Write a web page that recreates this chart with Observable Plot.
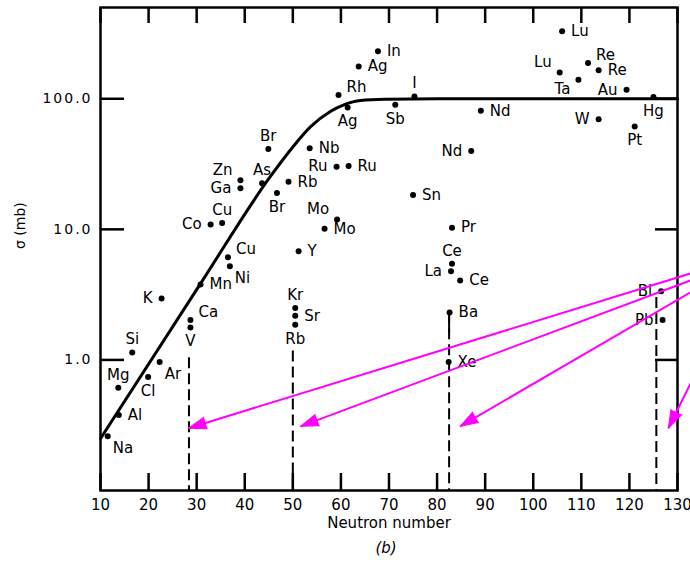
<!DOCTYPE html>
<html><head><meta charset="utf-8">
<script src="https://cdn.jsdelivr.net/npm/d3@7"></script>
<script src="https://cdn.jsdelivr.net/npm/@observablehq/plot@0.6"></script>
<style>
html,body{margin:0;padding:0;background:#fff;}
</style></head><body><div id="chart"></div>
<script>
// ---- data ----
const elements = ["Na","Al","Mg","Cl","Si","Ar","K","Ca","V","Mn",
  "Co","Cu","Cu","Ni","Ga","Zn","As","Br","Br","Rb",
  "Y","Nb","Mo","Mo","Ru","Ru","Kr","Sr","Rb","Rh",
  "Ag","Ag","In","Sb","I","Sn","Nd","Nd","Pr","Ce",
  "La","Ce","Ba","Xe","Lu","Lu","Ta","Re","Re","W",
  "Au","Pt","Hg","Bi","Pb"];
const neutrons = [11.5,13.8,13.7,19.9,16.6,22.3,22.7,28.7,28.7,30.8,
  32.9,35.3,36.5,36.9,39.1,39.1,43.6,44.9,46.7,49.1,
  51.2,53.5,56.6,59.2,59.1,61.6,50.5,50.5,50.5,59.5,
  61.4,63.7,67.7,71.3,75.3,75.0,87.1,89.1,83.1,83.1,
  82.9,84.8,82.6,82.4,106.0,105.5,109.4,111.4,113.6,113.6,
  119.4,121.1,125.0,126.6,126.9];
const sigmas = [0.26,0.378,0.612,0.74,1.14,0.965,2.95,2.02,1.77,3.78,
  10.9,11.2,6.12,5.22,20.6,23.8,22.5,41.3,19.0,23.1,
  6.81,41.8,10.1,11.9,30.2,30.5,2.50,2.18,1.86,107,
  85.8,177,231,89.9,104,18.3,39.8,80.9,10.3,5.45,
  4.78,4.05,2.31,0.965,329,159,140,188,165,69.8,
  117,61.2,103,3.35,2.02];
const placements = ["SE","E","N","S","N","SE","W","NE","S","E",
  "W","N","NE","SE","W","NW","N","N","S","E",
  "E","E","E","NW","W","E","N","E","S","NE",
  "S","E","E","S","N","E","W","E","E","N",
  "W","E","E","E","E","NW","SW","NE","E","W",
  "W","S","S","W","W"];

// smooth trend curve
const curveN = [10, 30.8, 45.3, 49.5, 53.7, 57.8, 60.6, 64.1, 69.6, 80, 130];
const curveSigma = [0.25, 3.84, 25.3, 40.5, 61.2, 80.0, 89.9, 97.1, 99, 100, 100];

// magic-number dashed lines (Ba line has a short solid part below the dot)
const magicN = [28.4, 50, 82.5, 125.6];
const magicTop = [1.04, 1.17, 2.3, 3.0];
const solidN = [82.5];
const solidTop = [2.3];
const solidBottom = [1.6];

// magenta annotation arrows
const arrowFromN = [134.7, 134.7, 134.7, 134.7];
const arrowFromSigma = [4.84, 4.33, 3.63, 0.93];
const arrowToN = [28.3, 51.6, 84.8, 128.1];
const arrowToSigma = [0.30, 0.31, 0.31, 0.30];

const xTicks = [10,20,30,40,50,60,70,80,90,100,110,120,130];
const yTicks = [1, 10, 100];
const xDomain = [10, 130];
const yDomain = [0.1, 500];

const xLabel = "Neutron number";
const yLabel = "σ (mb)";
const caption = "(b)";

// ---- layout ----
const W = 690, H = 563, mL = 100, mR = 13, mT = 7, mB = 73;
const tickLenBottom = 17, tickLenTop = 16, tickLenLeft = 24, tickLenRight = 22;

// the same mappings Plot uses for this frame, to size the inward ticks and orient arrowheads
const px = d3.scaleLinear().domain(xDomain).range([mL, W - mR]);
const py = d3.scaleLog().domain(yDomain).range([H - mB, mT]);

// ---- build tables ----
const points = elements.map((el, i) => ({el, n: neutrons[i], s: sigmas[i], p: placements[i]}));
const curve = curveN.map((n, i) => ({n, s: curveSigma[i]}));
const magic = magicN.map((n, i) => ({n, top: magicTop[i], bottom: yDomain[0]}));
const solid = solidN.map((n, i) => ({n, top: solidTop[i], bottom: solidBottom[i]}));
const arrows = arrowFromN.map((n1, i) => {
  const dx = px(arrowToN[i]) - px(n1), dy = py(arrowToSigma[i]) - py(arrowFromSigma[i]);
  return {n1, s1: arrowFromSigma[i], n2: arrowToN[i], s2: arrowToSigma[i], angle: Math.atan2(dx, -dy) * 180 / Math.PI};
});
const bottomTicks = xTicks.map(n => ({n, a: yDomain[0], b: py.invert(py(yDomain[0]) - tickLenBottom)}));
const topTicks = xTicks.map(n => ({n, a: yDomain[1], b: py.invert(py(yDomain[1]) + tickLenTop)}));
const leftTicks = yTicks.map(s => ({s, a: xDomain[0], b: px.invert(px(xDomain[0]) + tickLenLeft)}));
const rightTicks = yTicks.map(s => ({s, a: xDomain[1], b: px.invert(px(xDomain[1]) - tickLenRight)}));

const offsets = {
  E:  {dx: 9,  dy: 0,   textAnchor: "start"},
  W:  {dx: -9, dy: 0,   textAnchor: "end"},
  N:  {dx: 0,  dy: -13, textAnchor: "middle"},
  S:  {dx: 0,  dy: 14,  textAnchor: "middle"},
  NE: {dx: 8,  dy: -8,  textAnchor: "start"},
  NW: {dx: -8, dy: -10, textAnchor: "end"},
  SE: {dx: 5,  dy: 12,  textAnchor: "start"},
  SW: {dx: -8, dy: 9,   textAnchor: "end"}
};

const MAGENTA = "#ff00ff";
const TICK = {stroke: "#000", strokeWidth: 2.5};

const labelMarks = Object.entries(offsets).map(([code, o]) =>
  Plot.text(points.filter(d => d.p === code), {x: "n", y: "s", text: "el", dx: o.dx, dy: o.dy,
    textAnchor: o.textAnchor, lineAnchor: "middle", fontSize: 15, fill: "black"}));

const svg = Plot.plot({
  width: W, height: H,
  marginLeft: mL, marginRight: mR, marginTop: mT, marginBottom: mB,
  style: {fontFamily: "'DejaVu Sans', sans-serif"},
  x: {domain: xDomain, label: null},
  y: {type: "log", domain: yDomain, label: null},
  marks: [
    Plot.ruleX(magic, {x: "n", y1: "top", y2: "bottom", stroke: "black", strokeWidth: 2, strokeDasharray: "11,5"}),
    Plot.ruleX(solid, {x: "n", y1: "top", y2: "bottom", stroke: "black", strokeWidth: 2}),
    // inward ticks on all four sides
    Plot.ruleX(bottomTicks, {x: "n", y1: "a", y2: "b", ...TICK}),
    Plot.ruleX(topTicks, {x: "n", y1: "a", y2: "b", ...TICK}),
    Plot.ruleY(leftTicks, {y: "s", x1: "a", x2: "b", ...TICK}),
    Plot.ruleY(rightTicks, {y: "s", x1: "a", x2: "b", ...TICK}),
    Plot.frame({stroke: "black", strokeWidth: 2.5}),
    Plot.axisX(xTicks, {anchor: "bottom", tickSize: 0, tickPadding: 9, fontSize: 15, label: null}),
    Plot.axisY(yTicks, {anchor: "left", tickSize: 0, tickPadding: 8, fontSize: 14, tickFormat: d3.format(".1f"), label: null}),
    Plot.line(curve, {x: "n", y: "s", curve: "monotone-x", stroke: "black", strokeWidth: 3}),
    Plot.dot(points, {x: "n", y: "s", r: 3, fill: "black"}),
    ...labelMarks,
    Plot.text([xLabel], {frameAnchor: "bottom", dy: 37, text: d => d, fontSize: 15, fill: "black"}),
    Plot.text([caption], {frameAnchor: "bottom", dy: 62, dx: -3, text: d => d, fontSize: 15, fontStyle: "italic", fill: "black"}),
    Plot.text([yLabel], {frameAnchor: "left", dx: -80, rotate: -90, text: d => d, fontSize: 14, fill: "black"}),
    Plot.link(arrows, {x1: "n1", y1: "s1", x2: "n2", y2: "s2", stroke: MAGENTA, strokeWidth: 2}),
    Plot.vector(arrows, {x: "n2", y: "s2", rotate: "angle", length: 18, r: 6, shape: "spike",
      anchor: "end", fill: MAGENTA, stroke: MAGENTA, strokeWidth: 1})
  ]
});
svg.querySelectorAll('g[aria-label="y-axis tick label"] text').forEach(t => t.setAttribute("letter-spacing", "2"));
document.getElementById("chart").append(svg);
</script>
</body></html>
